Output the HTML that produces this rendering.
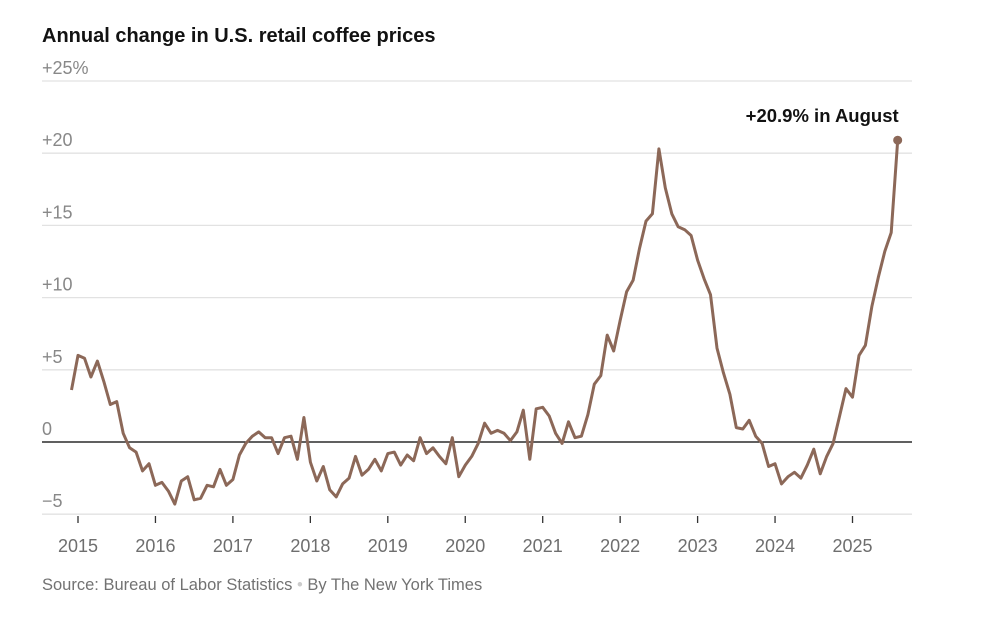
<!DOCTYPE html>
<html><head><meta charset="utf-8"><style>
body{margin:0;background:#fff;width:1000px;height:617px;overflow:hidden}
svg{display:block;font-family:"Liberation Sans",Arial,sans-serif}
</style></head><body>
<svg width="1000" height="617" viewBox="0 0 1000 617">
<text x="42" y="42" font-size="20" font-weight="bold" fill="#121212">Annual change in U.S. retail coffee prices</text>
<g id="grid"></g>
<g id="xaxis"></g>
<path id="line" fill="none" stroke="#8c6858" stroke-width="3" stroke-linejoin="round"></path>
<circle id="endDot" r="4.5" fill="#8c6858"></circle>
<text id="endLabel" font-size="18.5" font-weight="bold" fill="#121212" text-anchor="end">+20.9% in August</text>
<text x="42" y="590" font-size="16.5" fill="#727272">Source: Bureau of Labor Statistics <tspan fill="#ccc">•</tspan> By The New York Times</text>
</svg>
<script>
const values=[3.6,
6.0,5.8,4.5,5.6,4.2,2.6,2.8,0.6,-0.4,-0.7,-2.0,-1.5,
-3.0,-2.8,-3.4,-4.3,-2.7,-2.4,-4.0,-3.9,-3.0,-3.1,-1.9,-3.0,
-2.6,-0.9,-0.1,0.4,0.7,0.3,0.3,-0.8,0.3,0.4,-1.2,1.7,
-1.4,-2.7,-1.7,-3.3,-3.8,-2.9,-2.5,-1.0,-2.3,-1.9,-1.2,-2.0,
-0.8,-0.7,-1.6,-0.9,-1.3,0.3,-0.8,-0.4,-1.0,-1.5,0.3,-2.4,
-1.6,-1.0,-0.1,1.3,0.6,0.8,0.6,0.1,0.7,2.2,-1.2,2.3,
2.4,1.8,0.6,-0.1,1.4,0.3,0.4,1.9,4.0,4.6,7.4,6.3,
8.4,10.4,11.2,13.4,15.3,15.8,20.3,17.6,15.8,14.9,14.7,14.3,
12.6,11.3,10.2,6.5,4.8,3.3,1.0,0.9,1.5,0.4,-0.1,-1.7,
-1.5,-2.9,-2.4,-2.1,-2.5,-1.6,-0.5,-2.2,-1.0,-0.1,1.8,3.7,
3.1,6.0,6.7,9.4,11.4,13.2,14.5,20.9];
const startMonth=-1; // months offset from Jan 2015 (Dec 2014)
const yTicks=[25,20,15,10,5,0,-5];
const yTickLabels=["+25%","+20","+15","+10","+5","0","\u22125"];
const years=[2015,2016,2017,2018,2019,2020,2021,2022,2023,2024,2025];
const NS="http://www.w3.org/2000/svg";
const x=m=>78+m*(774.5/120);
const y=v=>442-v*14.44;
const grid=document.getElementById('grid');
yTicks.forEach((t,i)=>{
 const l=document.createElementNS(NS,'line');
 l.setAttribute('x1',42);l.setAttribute('x2',912);
 l.setAttribute('y1',y(t));l.setAttribute('y2',y(t));
 l.setAttribute('stroke',t===0?'#000':'#e2e2e2');l.setAttribute('stroke-width',1.3);
 
 
 grid.appendChild(l);
 const tx=document.createElementNS(NS,'text');
 tx.setAttribute('x',42);tx.setAttribute('y',y(t)-7);
 tx.setAttribute('font-size',18);tx.setAttribute('fill','#888');
 tx.textContent=yTickLabels[i];
 
 
 grid.appendChild(tx);
});
const xa=document.getElementById('xaxis');
years.forEach((yr,i)=>{
 const px=x(i*12);
 const l=document.createElementNS(NS,'line');
 l.setAttribute('x1',px);l.setAttribute('x2',px);l.setAttribute('y1',516);l.setAttribute('y2',523);
 l.setAttribute('stroke','#333');l.setAttribute('stroke-width',1.3);
 
 
 xa.appendChild(l);
 const t=document.createElementNS(NS,'text');
 t.setAttribute('x',px);t.setAttribute('y',552);t.setAttribute('text-anchor','middle');
 t.setAttribute('font-size',18);t.setAttribute('fill','#6e6e6e');
 t.textContent=yr;
 
 
 xa.appendChild(t);
});
let d='';
values.forEach((v,i)=>{d+=(i?'L':'M')+x(startMonth+i).toFixed(1)+','+y(v).toFixed(1);});
document.getElementById('line').setAttribute('d',d);
const li=values.length-1;
const dot=document.getElementById('endDot');
dot.setAttribute('cx',x(startMonth+li));dot.setAttribute('cy',y(values[li]));
const lab=document.getElementById('endLabel');
lab.setAttribute('x',x(startMonth+li)+1);lab.setAttribute('y',y(values[li])-18);
</script>
</body></html>
